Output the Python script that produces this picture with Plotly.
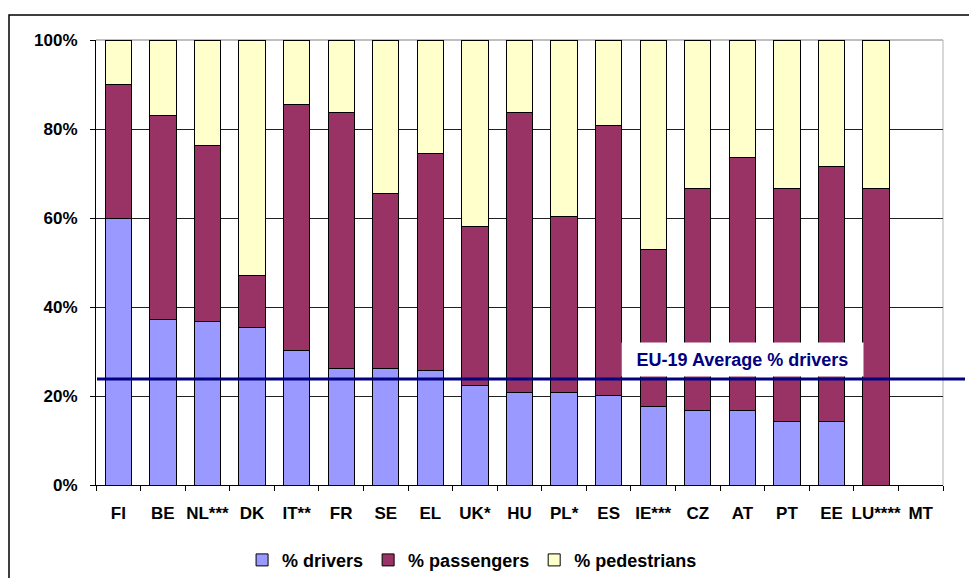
import plotly.graph_objects as go

countries = ["FI", "BE", "NL***", "DK", "IT**", "FR", "SE", "EL", "UK*", "HU",
             "PL*", "ES", "IE***", "CZ", "AT", "PT", "EE", "LU****", "MT"]
drivers = [60.0, 37.2, 36.8, 35.3, 30.3, 26.2, 26.2, 25.8, 22.4, 20.9,
           20.7, 20.2, 17.7, 16.7, 16.7, 14.3, 14.3, 0.0, None]
passengers = [30.0, 45.9, 39.4, 11.7, 55.3, 57.6, 39.4, 48.6, 35.6, 62.7,
              39.7, 60.5, 35.3, 50.0, 56.8, 52.4, 57.2, 66.7, None]
pedestrians = [10.0, 16.9, 23.8, 53.0, 14.4, 16.2, 34.4, 25.6, 42.0, 16.4,
               39.6, 19.3, 47.0, 33.3, 26.5, 33.3, 28.5, 33.3, None]
eu_average_drivers = 23.8
y_ticks = [0, 20, 40, 60, 80, 100]
y_tick_labels = ["0%", "20%", "40%", "60%", "80%", "100%"]

FONT = "Liberation Sans"

fig = go.Figure()
series = [("% drivers", drivers, "#9999FF"),
          ("% passengers", passengers, "#993366"),
          ("% pedestrians", pedestrians, "#FFFFCC")]
for name, vals, col in series:
    fig.add_trace(go.Bar(x=countries, y=vals, name=name,
                         marker=dict(color=col, line=dict(color="black", width=1))))

# the page adds an 8px body margin, so the figure is 8px smaller and shifted
fig.update_layout(
    width=969, height=570,
    margin=dict(l=88, r=34, t=32, b=93, autoexpand=False),
    barmode="stack", bargap=0.41,
    plot_bgcolor="white", paper_bgcolor="white",
    font=dict(family=FONT, size=16, color="black"),
    showlegend=True,
    legend=dict(orientation="h", x=0.444, xanchor="center", y=-0.169, yanchor="middle",
                font=dict(family=FONT, size=18, color="black", weight="bold"),
                itemwidth=30, traceorder="normal"),
)
fig.update_xaxes(
    automargin=False, tickangle=0,
    showline=True, linecolor="black", linewidth=1, mirror=False,
    ticks="outside", tickson="boundaries", ticklen=5, tickcolor="black",
    tickfont=dict(family=FONT, size=17, color="black", weight="bold"),
    ticklabelstandoff=13,
)
fig.update_yaxes(
    automargin=False,
    range=[0, 100], tickmode="array", tickvals=y_ticks, ticktext=y_tick_labels,
    showline=True, linecolor="black", linewidth=1,
    ticks="outside", ticklen=5, tickcolor="black",
    showgrid=True, gridcolor="#202020", gridwidth=1,
    tickfont=dict(family=FONT, size=17, color="black", weight="bold"),
    ticklabelstandoff=9,
    zeroline=False,
)

# plot area border: gray top, light gray right
fig.add_shape(type="line", xref="paper", yref="paper", x0=0, x1=1, y0=1, y1=1,
              line=dict(color="#808080", width=1), layer="between")
fig.add_shape(type="line", xref="paper", yref="paper", x0=1, x1=1, y0=0, y1=1,
              line=dict(color="#b0b0b0", width=1), layer="between")
# outer chart frame
fig.add_shape(type="rect", xref="paper", yref="paper",
              x0=(9 - 96) / 847, x1=(974.5 - 96) / 847,
              y0=(485 - 600) / 445, y1=(485 - 15) / 445,
              line=dict(color="black", width=1.5))
fig.add_shape(type="line", xref="paper", yref="paper",
              x0=(973 - 96) / 847, x1=(973 - 96) / 847,
              y0=(485 - 600) / 445, y1=(485 - 15) / 445,
              line=dict(color="black", width=2))
# EU average line
fig.add_shape(type="line", xref="paper", yref="y",
              x0=(97 - 96) / 847, x1=(965 - 96) / 847,
              y0=eu_average_drivers, y1=eu_average_drivers,
              line=dict(color="#000080", width=3))
fig.add_annotation(text="EU-19 Average % drivers", xref="paper", yref="paper",
                   x=(742 - 96) / 847, y=(485 - 359.5) / 445,
                   xanchor="center", yanchor="middle", showarrow=False,
                   bgcolor="white", width=241, height=33, borderpad=0,
                   font=dict(family=FONT, size=18, color="#000080", weight="bold"))

fig.write_html("out.html")
